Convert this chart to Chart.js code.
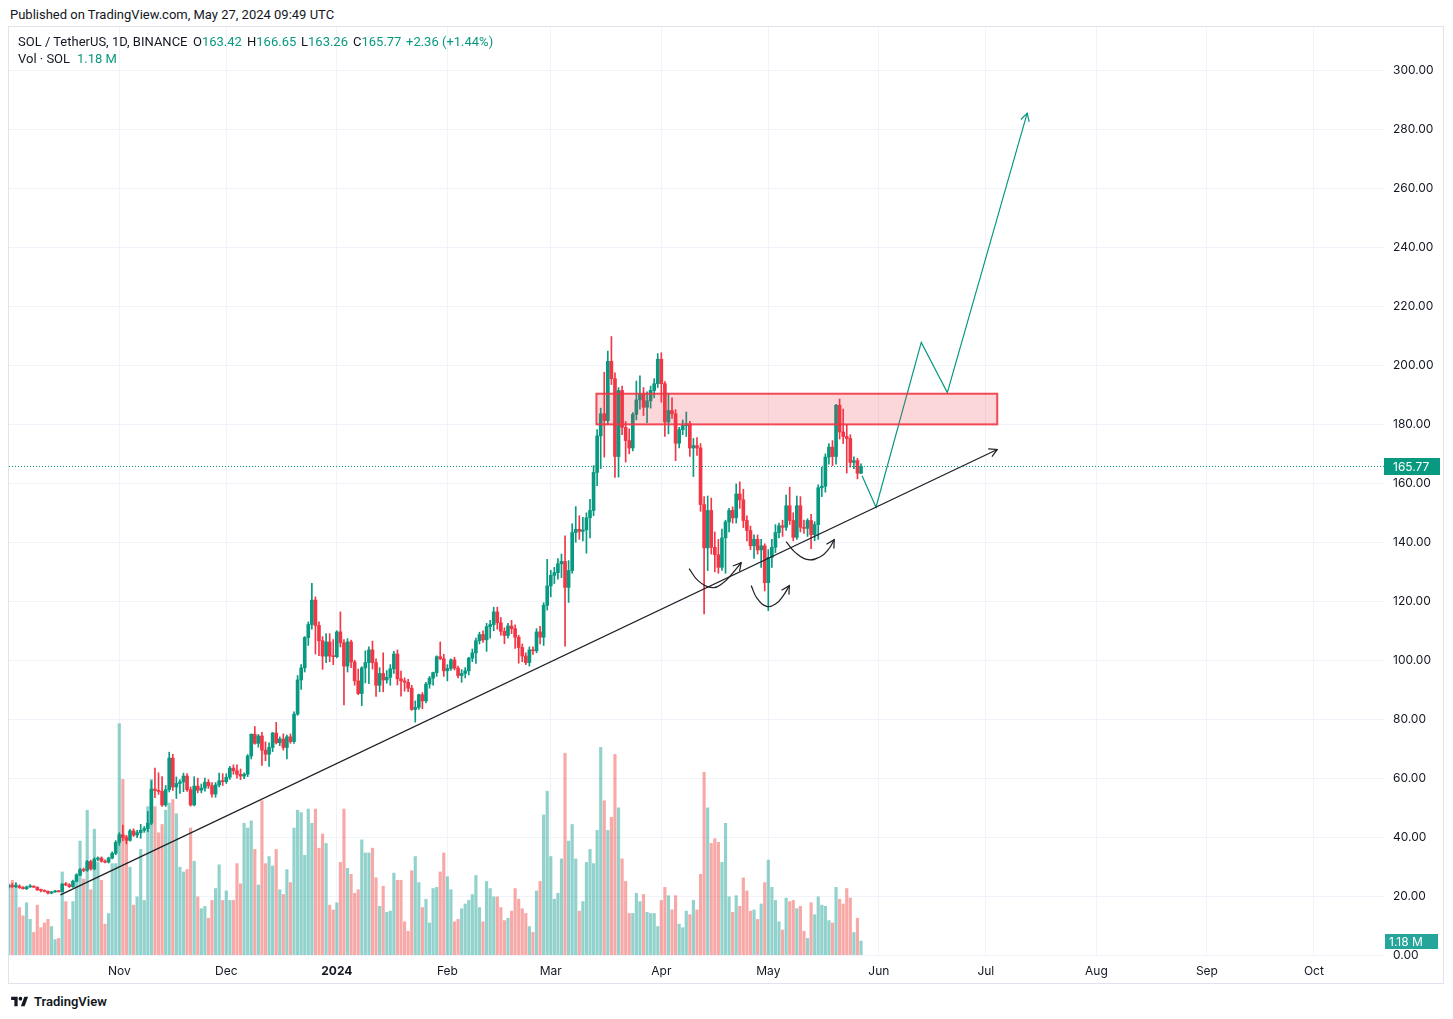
<!DOCTYPE html>
<html>
<head>
<meta charset="utf-8">
<script src="https://cdn.jsdelivr.net/npm/chart.js@4.4.1/dist/chart.umd.min.js"></script>
<style>
  html, body { margin: 0; padding: 0; background: #fff; }
  body { width: 1453px; height: 1019px; position: relative; overflow: hidden;
         font-family: Roboto, "Noto Sans", sans-serif; color: #131722; }
  .txt { position: absolute; font-size: 13px; line-height: 16px; white-space: pre; }
  .up { color: #089981; }
  #frame { position: absolute; left: 8px; top: 26px; width: 1436px; height: 958px;
           box-sizing: border-box; border: 1px solid #e0e3eb; pointer-events: none; z-index: 2; }
  #wrap { position: absolute; left: 9px; top: 27px; width: 1434px; height: 956px; }
  #logo { position: absolute; left: 10px; top: 994px; display: flex; align-items: center; gap: 5px;
          font-size: 13px; font-weight: 600; color: #131722; }
</style>
</head>
<body>
<div class="txt" style="left:10px;top:7px;">Published on TradingView.com, May 27, 2024 09:49 UTC</div>

<div class="txt" style="left:18px;top:34px;z-index:3;">SOL / TetherUS, 1D, BINANCE</div>
<div class="txt" style="left:193px;top:34px;z-index:3;">O<span class="up">163.42</span></div>
<div class="txt" style="left:247px;top:34px;z-index:3;">H<span class="up">166.65</span></div>
<div class="txt" style="left:301px;top:34px;z-index:3;">L<span class="up">163.26</span></div>
<div class="txt" style="left:353px;top:34px;z-index:3;">C<span class="up">165.77</span></div>
<div class="txt up" style="left:406px;top:34px;z-index:3;">+2.36 (+1.44%)</div>
<div class="txt" style="left:18px;top:51px;z-index:3;">Vol · SOL</div>
<div class="txt up" style="left:77px;top:51px;z-index:3;">1.18 M</div>

<div id="wrap"><canvas id="c" width="1434" height="956"></canvas></div>
<div id="frame"></div>

<div id="logo">
  <svg width="19" height="13" viewBox="0 0 36 28"><path d="M14 24H7V11H0V4h14z" fill="#131722"/><circle cx="20" cy="8" r="4" fill="#131722"/><path d="M29 24h-8l7.5-20h8z" fill="#131722"/></svg>
  <span>TradingView</span>
</div>

<script>
// daily candles of SOL/USDT from 2023-10-01 (index 0) to 2024-05-27
// each row: [open, high, low, close]
const ohlc = [
  // Oct 2023
  [23.0,24.0,22.7,23.6],[23.6,24.3,22.9,23.2],[23.2,24.6,22.8,23.4],[23.4,23.8,22.6,22.9],[22.9,23.2,22.3,22.5],
  [22.5,23.4,22.2,23.1],[23.1,23.9,22.9,23.3],[23.3,23.5,22.9,23.0],[23.0,23.1,21.9,22.1],[22.1,22.4,21.4,21.9],
  [21.9,22.1,21.4,21.6],[21.6,21.8,20.7,21.0],[21.0,21.6,20.8,21.4],[21.4,21.9,21.2,21.7],[21.7,21.8,21.3,21.5],
  [21.5,24.3,21.4,24.0],[24.0,24.6,23.5,23.8],[23.8,24.2,22.9,23.2],[23.2,25.4,22.9,25.0],[25.0,27.6,24.8,27.1],
  [27.1,29.4,26.9,28.9],[28.9,29.5,28.2,28.7],[28.7,32.1,28.4,31.7],[31.7,32.2,28.8,29.2],[29.2,33.0,28.9,32.5],
  [32.5,33.3,31.9,32.9],[32.9,33.3,31.5,31.8],[31.8,32.3,31.2,31.5],[31.5,33.2,31.2,32.9],[32.9,35.0,32.6,34.5],
  [34.5,38.8,34.0,38.2],
  // Nov
  [38.2,41.5,37.2,40.8],[40.8,44.1,38.8,39.8],[39.8,40.6,37.7,38.9],[38.9,42.6,38.6,42.1],[42.1,42.8,40.2,40.7],
  [40.7,42.3,39.8,41.5],[41.5,44.3,39.6,42.3],[42.3,43.6,41.6,42.9],[42.9,48.7,41.8,44.7],[44.7,59.1,44.2,56.3],
  [56.3,63.4,53.4,55.8],[55.8,61.8,54.5,55.5],[55.5,60.5,50.4,50.9],[50.9,57.5,50.4,56.1],[56.1,68.8,55.3,66.8],
  [66.8,68.1,55.8,57.0],[57.0,60.4,53.1,58.2],[58.2,59.5,54.8,58.7],[58.7,61.7,55.4,60.7],[60.7,61.5,55.5,56.1],
  [56.1,57.0,50.5,50.9],[50.9,60.5,50.6,57.3],[57.3,60.0,55.0,55.9],[55.9,58.0,55.0,56.6],[56.6,60.0,55.6,58.6],
  [58.6,59.5,56.5,57.4],[57.4,58.5,53.5,54.6],[54.6,58.5,53.5,57.7],[57.7,61.7,57.0,59.1],[59.1,61.5,57.5,58.8],
  // Dec
  [58.8,61.5,58.2,60.3],[60.3,64.0,59.6,63.4],[63.4,64.5,61.3,62.5],[62.5,64.5,60.0,61.3],[61.3,63.1,59.5,60.7],
  [60.7,61.8,59.8,61.3],[61.3,68.0,60.5,67.5],[67.5,75.0,66.5,74.9],[74.9,77.5,71.5,71.8],[71.8,74.8,70.5,74.3],
  [74.3,75.5,64.3,69.5],[69.5,72.3,65.9,68.1],[68.1,72.0,64.0,70.4],[70.4,75.5,69.0,75.3],[75.3,78.9,71.6,72.0],
  [72.0,74.0,71.0,73.3],[73.3,75.0,69.5,70.4],[70.4,74.6,66.5,74.0],[74.0,75.0,71.8,72.4],[72.4,82.5,71.8,81.7],
  [81.7,94.8,81.3,93.3],[93.3,98.5,90.1,97.4],[97.4,108.0,96.0,107.7],[107.7,113.0,105.0,112.1],[112.1,126.1,110.5,120.4],
  [120.4,121.5,102.1,111.8],[111.8,113.0,101.5,106.6],[106.6,108.0,96.9,101.4],[101.4,109.0,99.2,106.2],[106.2,109.0,99.5,101.4],
  [101.4,107.0,98.5,101.2],
  // Jan 2024
  [101.2,110.0,100.8,109.6],[109.6,116.4,104.5,105.9],[105.9,107.0,84.8,98.0],[98.0,107.3,96.0,106.2],[106.2,106.8,97.5,99.4],
  [99.4,100.0,91.5,93.0],[93.0,97.0,88.3,88.7],[88.7,97.8,84.6,97.4],[97.4,103.2,92.3,99.2],[99.2,104.5,92.0,103.5],
  [103.5,106.5,97.0,99.2],[99.2,100.5,87.7,91.5],[91.5,97.5,89.3,95.5],[95.5,102.5,89.3,93.3],[93.3,96.5,92.2,94.2],
  [94.2,98.5,91.5,97.1],[97.1,103.0,95.5,102.1],[102.1,103.5,91.6,93.7],[93.7,96.3,87.8,93.0],[93.0,94.0,89.5,92.5],
  [92.5,93.5,89.3,90.5],[90.5,91.5,83.0,83.3],[83.3,86.2,79.0,84.0],[84.0,88.5,83.3,88.3],[88.3,89.0,83.5,86.2],
  [86.2,92.5,85.5,91.9],[91.9,94.5,90.5,93.9],[93.9,96.0,91.5,95.8],[95.8,101.5,94.5,101.2],[101.2,106.2,100.2,100.5],
  [100.5,102.0,94.5,96.4],
  // Feb
  [96.4,98.5,93.0,97.2],[97.2,100.5,96.5,100.1],[100.1,101.0,96.7,97.3],[97.3,98.0,94.0,94.8],[94.8,96.8,92.5,95.5],
  [95.5,97.5,94.0,96.4],[96.4,101.0,95.0,100.7],[100.7,103.8,99.5,102.5],[102.5,107.5,98.9,106.6],[106.6,109.5,105.5,108.7],
  [108.7,110.0,106.0,106.9],[106.9,112.5,103.0,111.4],[111.4,113.5,107.5,112.1],[112.1,118.0,110.0,116.4],[116.4,118.0,110.5,112.7],
  [112.7,114.5,108.5,109.8],[109.8,111.0,105.6,108.4],[108.4,112.5,107.5,111.6],[111.6,113.5,109.0,110.7],[110.7,112.0,104.0,107.8],
  [107.8,108.5,99.0,104.3],[104.3,105.5,99.5,101.4],[101.4,102.5,98.5,99.2],[99.2,104.5,98.0,103.5],[103.5,104.5,102.0,103.2],
  [103.2,110.7,102.5,109.6],[109.6,111.5,105.5,107.8],[107.8,119.5,105.0,118.6],[118.6,134.2,117.0,125.2],
  // Mar
  [125.2,130.5,121.5,128.8],[128.8,131.5,126.0,129.7],[129.7,134.5,127.5,132.7],[132.7,136.0,128.0,133.5],[133.5,142.2,104.8,124.7],
  [124.7,133.8,119.6,130.4],[130.4,146.3,129.5,143.3],[143.3,152.1,140.0,144.4],[144.4,149.0,141.0,143.7],[143.7,148.5,140.5,144.2],
  [144.2,150.0,136.3,148.3],[148.3,154.6,141.5,150.8],[150.8,166.0,149.0,163.7],[163.7,178.2,159.2,176.1],[176.1,185.5,165.0,183.6],
  [183.6,197.7,168.9,181.3],[181.3,204.9,180.0,201.4],[201.4,209.8,193.5,195.5],[195.5,197.5,162.0,169.1],[169.1,192.5,162.1,191.5],
  [191.5,193.0,176.5,179.0],[179.0,181.0,167.2,174.5],[174.5,178.5,170.0,172.0],[172.0,184.0,171.0,183.4],[183.4,194.7,181.5,188.3],
  [188.3,196.5,185.2,190.4],[190.4,192.5,183.0,185.8],[185.8,191.0,180.6,188.0],[188.0,193.0,185.5,191.5],[191.5,195.5,189.0,193.8],
  [193.8,204.0,192.5,202.1],
  // Apr
  [202.1,204.3,187.5,193.8],[193.8,194.5,175.9,180.8],[180.8,190.4,176.8,184.7],[184.7,189.0,182.0,183.6],[183.6,185.0,167.7,173.6],
  [173.6,179.0,172.0,178.2],[178.2,181.5,176.5,179.6],[179.6,184.2,175.9,180.2],[180.2,181.0,169.1,172.0],[172.0,175.2,162.3,172.8],
  [172.8,175.5,169.5,172.0],[172.0,173.5,150.5,152.8],[152.8,155.5,115.7,138.1],[138.1,155.7,130.4,150.8],[150.8,155.0,136.0,138.3],
  [138.3,143.5,130.0,135.8],[135.8,141.0,129.5,131.5],[131.5,144.5,130.5,141.5],[141.5,147.5,129.5,146.9],[146.9,151.5,143.5,150.8],
  [150.8,152.0,146.5,148.3],[148.3,159.8,146.5,156.4],[156.4,160.5,151.5,154.4],[154.4,158.0,145.0,147.4],[147.4,149.0,140.5,144.0],
  [144.0,145.5,137.5,138.8],[138.8,142.5,134.5,141.0],[141.0,142.5,136.0,137.4],[137.4,141.0,131.5,138.8],[138.8,139.5,123.5,126.3],
  // May
  [126.3,137.5,116.8,134.9],[134.9,141.0,131.5,138.3],[138.3,146.0,136.5,143.3],[143.3,146.5,141.5,145.6],[145.6,147.5,142.0,145.1],
  [145.1,156.0,144.0,152.4],[152.4,158.7,146.0,147.4],[147.4,150.0,140.5,141.7],[141.7,155.7,141.0,152.4],[152.4,155.5,143.5,145.1],
  [145.1,147.5,143.0,144.7],[144.7,148.0,142.0,147.4],[147.4,149.5,137.8,142.6],[142.6,147.0,140.5,146.0],[146.0,159.5,141.0,158.5],
  [158.5,165.5,155.5,159.0],[159.0,170.0,157.0,168.9],[168.9,173.5,166.5,172.3],[172.3,174.5,166.0,169.1],[169.1,186.8,166.5,186.5],
  [186.5,188.6,175.0,177.4],[177.4,185.2,173.5,175.9],[175.9,180.0,163.5,175.2],[175.2,176.5,165.5,167.1],[167.1,169.0,165.0,167.7],
  [167.7,168.5,161.5,163.41],[163.42,166.65,163.26,165.77]
];

// daily volume, millions of SOL
const volumeM = [
  6.0,
  6.3,6.0,4.0,3.3,4.4,3.0,1.9,4.2,2.3,2.7,
  3.0,2.4,1.3,1.4,7.0,4.5,3.0,4.5,6.8,9.6,
  6.4,12.2,5.5,10.6,7.8,6.3,2.6,3.5,7.7,7.7,
  19.5,14.8,10.0,7.4,4.2,4.9,8.9,4.6,12.5,14.8,
  12.5,10.3,11.0,12.2,12.8,13.1,11.9,7.4,7.0,7.2,
  10.7,7.9,4.9,3.9,4.1,3.1,4.6,5.6,7.6,4.6,
  5.4,4.6,4.6,7.7,6.0,11.1,10.7,11.3,8.9,5.9,
  13.0,7.7,8.3,7.5,8.9,5.5,5.1,7.2,6.1,10.7,
  12.2,12.0,8.4,12.3,11.1,12.3,9.0,10.2,9.4,4.2,
  3.8,4.4,7.8,12.3,7.3,6.8,5.2,5.5,9.7,8.6,
  8.6,9.0,6.5,4.1,5.8,3.6,3.7,6.9,6.3,6.3,
  2.8,2.0,7.1,8.3,6.1,4.0,4.7,2.7,5.6,5.7,
  7.0,8.6,6.6,5.5,2.8,3.0,3.9,4.3,4.6,5.1,
  6.7,4.0,2.8,6.2,5.6,4.9,4.9,4.0,2.9,3.1,
  3.7,5.6,4.7,3.9,3.5,2.4,1.9,5.4,6.2,11.8,
  13.8,8.3,4.7,5.2,8.1,17.0,9.6,11.0,8.1,3.7,
  4.5,7.8,8.9,7.7,10.5,17.5,13.0,10.5,11.6,16.9,
  12.4,8.1,6.2,3.5,3.5,5.2,4.5,5.1,3.6,3.5,
  3.5,2.4,4.6,5.7,5.0,3.8,5.0,2.6,2.3,3.7,
  3.4,4.6,3.8,6.8,15.4,12.4,9.4,9.8,9.5,7.8,
  11.1,4.9,3.6,5.0,4.1,6.5,5.4,3.7,3.8,3.0,
  4.3,6.1,8.0,5.7,4.6,2.8,2.1,4.8,4.5,4.6,
  3.9,4.1,2.0,1.4,4.4,3.4,4.9,4.2,4.1,2.9,
  2.7,5.7,4.7,4.3,5.6,4.8,1.9,3.1,1.18
];

// time axis: day index (since 2023-10-01) of each month start shown
const monthDays   = [31, 61, 92, 123, 152, 183, 213, 244, 274, 305, 336, 366];
const monthLabels = ['Nov', 'Dec', '2024', 'Feb', 'Mar', 'Apr', 'May', 'Jun', 'Jul', 'Aug', 'Sep', 'Oct'];
const priceTicks  = [0, 20, 40, 60, 80, 100, 120, 140, 160, 180, 200, 220, 240, 260, 280, 300];

// drawings, in [day, price]
const trendLine  = [[14.5, 20.4], [277.2, 171.5]];
const projection = [[239.3, 162.6], [243.2, 151.9], [255.9, 207.8], [263.2, 190.8], [285.6, 285.6]];
const arcLeft    = [[190.8, 131.1], [193.3, 127.0], [197.3, 124.6], [200.1, 126.0], [202.9, 129.4], [205.4, 133.1]];
const arcMid     = [[208.2, 125.3], [209.9, 120.9], [212.7, 118.2], [215.2, 119.2], [217.2, 121.9], [218.9, 125.3]];
const arcRight   = [[218.0, 140.2], [220.6, 136.5], [224.2, 134.1], [227.6, 135.1], [229.8, 137.5], [231.5, 140.9]];
const zoneDays   = [164.8, 277.2];
const zonePrices = [180.0, 190.4];

const UP = '#089981', DOWN = '#f23645';
const last = ohlc.length - 1;
const lastClose = ohlc[last][3];

const isUp = ohlc.map(r => r[3] >= r[0]);
const pts = arr => arr.map(p => ({ x: p[0], y: p[1] }));

Chart.defaults.font.family = 'Inter, "Noto Sans", sans-serif';
Chart.defaults.font.size = 12;
Chart.defaults.color = '#131722';

// zone box, last price line, arrow heads, axis labels
const overlays = {
  id: 'overlays',
  afterDatasetsDraw(chart) {
    const { ctx, chartArea: a, scales: { x, y } } = chart;
    ctx.save();
    ctx.beginPath();
    ctx.rect(a.left, a.top, a.width, a.height);
    ctx.clip();

    const x0 = x.getPixelForValue(zoneDays[0]), x1 = x.getPixelForValue(zoneDays[1]);
    const yt = y.getPixelForValue(zonePrices[1]), yb = y.getPixelForValue(zonePrices[0]);
    ctx.fillStyle = 'rgba(242,54,69,0.2)';
    ctx.fillRect(x0, yt, x1 - x0, yb - yt);
    ctx.strokeStyle = 'rgba(242,54,69,0.9)';
    ctx.lineWidth = 2;
    ctx.strokeRect(x0, yt, x1 - x0, yb - yt);

    const py = Math.round(y.getPixelForValue(lastClose)) + 0.5;
    ctx.strokeStyle = UP;
    ctx.lineWidth = 1;
    ctx.setLineDash([1, 2]);
    ctx.beginPath();
    ctx.moveTo(a.left, py);
    ctx.lineTo(a.right, py);
    ctx.stroke();
    ctx.setLineDash([]);

    chart.data.datasets.forEach((ds, i) => {
      if (!ds.arrowHead) return;
      const els = chart.getDatasetMeta(i).data;
      const b = els[els.length - 1];
      const a2 = els[els.length - 2];
      const fx = (b.cp1x !== undefined && ds.tension) ? b.cp1x : a2.x;
      const fy = (b.cp1y !== undefined && ds.tension) ? b.cp1y : a2.y;
      const ang = Math.atan2(b.y - fy, b.x - fx);
      const len = 9, spread = 0.5;
      ctx.strokeStyle = ds.borderColor;
      ctx.lineWidth = ds.borderWidth;
      ctx.beginPath();
      ctx.moveTo(b.x - len * Math.cos(ang - spread), b.y - len * Math.sin(ang - spread));
      ctx.lineTo(b.x, b.y);
      ctx.lineTo(b.x - len * Math.cos(ang + spread), b.y - len * Math.sin(ang + spread));
      ctx.stroke();
    });
    ctx.restore();
  },
  afterDraw(chart) {
    const { ctx, chartArea: a, scales: { y, yVol } } = chart;
    ctx.save();
    ctx.textBaseline = 'middle';
    ctx.font = '12px Inter, "Noto Sans", sans-serif';

    const py = y.getPixelForValue(lastClose);
    ctx.fillStyle = UP;
    ctx.fillRect(a.right - 1, Math.round(py) - 8, 56, 17);
    ctx.fillStyle = '#fff';
    ctx.fillText(lastClose.toFixed(2), a.right + 8, py + 1);

    const vy = yVol.getPixelForValue(volumeM[last]);
    ctx.fillStyle = '#26a69a';
    ctx.fillRect(a.right, Math.round(vy) - 7, 53, 15);
    ctx.fillStyle = '#fff';
    ctx.fillText(volumeM[last].toFixed(2) + ' M', a.right + 4, vy + 1);
    ctx.restore();
  }
};

new Chart(document.getElementById('c'), {
  type: 'bar',
  data: {
    datasets: [
      {
        type: 'line', data: pts(trendLine), borderColor: '#1e1f24', borderWidth: 1.2,
        pointRadius: 0, yAxisID: 'y', arrowHead: true, order: 1
      },
      {
        type: 'line', data: pts(projection), borderColor: '#089981', borderWidth: 1.2,
        pointRadius: 0, yAxisID: 'y', arrowHead: true, order: 1
      },
      ...[arcLeft, arcMid, arcRight].map(arc => ({
        type: 'line', data: pts(arc), borderColor: '#1e1f24', borderWidth: 1.2,
        pointRadius: 0, tension: 0.45, yAxisID: 'y', arrowHead: true, order: 1
      })),
      {
        data: ohlc.map((r, i) => ({ x: i, y: [r[0], r[3]] })),
        backgroundColor: isUp.map(u => u ? UP : DOWN),
        barThickness: 3, minBarLength: 1, grouped: false, yAxisID: 'y', order: 2
      },
      {
        data: ohlc.map((r, i) => ({ x: i, y: [r[2], r[1]] })),
        backgroundColor: isUp.map(u => u ? UP : DOWN),
        barThickness: 1, grouped: false, yAxisID: 'y', order: 3
      },
      {
        data: volumeM.map((v, i) => ({ x: i, y: v })),
        backgroundColor: isUp.map(u => u ? 'rgba(38,166,154,0.5)' : 'rgba(239,83,80,0.5)'),
        barThickness: 2.5, grouped: false, yAxisID: 'yVol', order: 4
      }
    ]
  },
  options: {
    responsive: false,
    animation: false,
    events: [],
    layout: { padding: 0 },
    plugins: { legend: { display: false }, tooltip: { enabled: false } },
    scales: {
      x: {
        type: 'linear', min: 0.07, max: 385.94, offset: false,
        grid: { color: '#f0f3fa', drawTicks: false, offset: false },
        border: { display: false },
        afterBuildTicks: s => { s.ticks = monthDays.map(v => ({ value: v })); },
        afterFit: s => { s.height = 28; s.paddingLeft = 0; s.paddingRight = 0; },
        ticks: {
          autoSkip: false, maxRotation: 0, padding: 9, color: '#131722',
          font: c => ({ size: 12, weight: c.tick && c.tick.value === 92 ? 'bold' : 'normal' }),
          callback: v => monthLabels[monthDays.indexOf(v)]
        }
      },
      y: {
        position: 'right', min: 0, max: 314.8,
        grid: { color: '#f0f3fa', drawTicks: false },
        border: { display: false },
        afterBuildTicks: s => { s.ticks = priceTicks.map(v => ({ value: v })); },
        afterFit: s => { s.width = 58; s.paddingTop = 0; s.paddingBottom = 0; },
        ticks: { padding: 8, color: '#131722', callback: v => Number(v).toFixed(2) }
      },
      yVol: { display: false, min: 0, max: 78.2 }
    }
  },
  plugins: [overlays]
});
</script>
</body>
</html>
